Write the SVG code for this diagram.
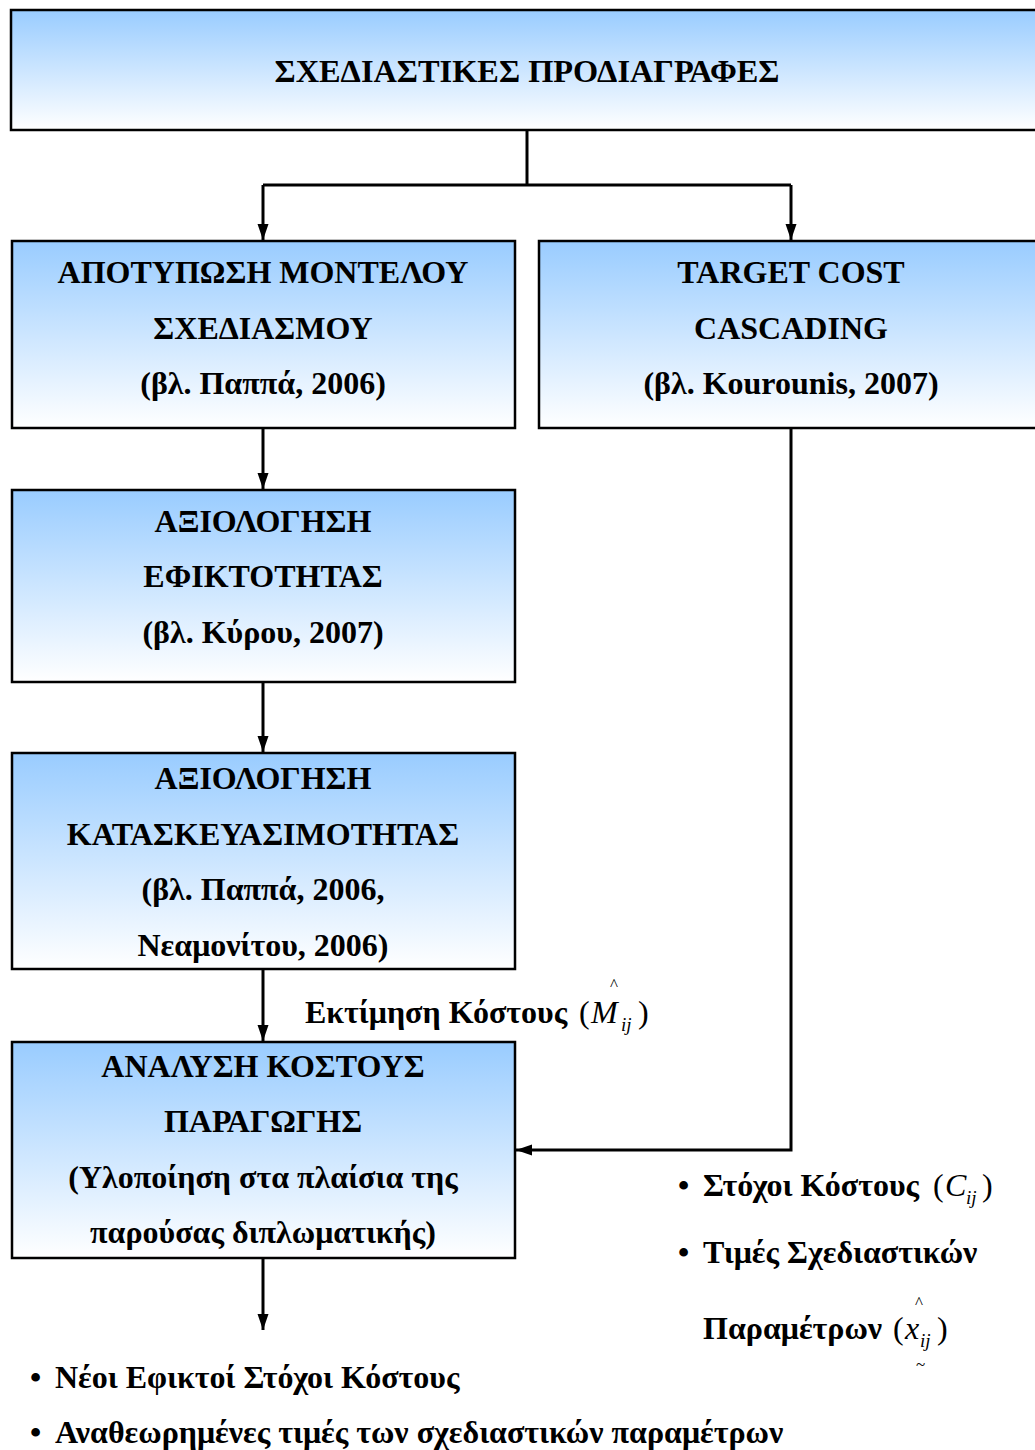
<svg xmlns="http://www.w3.org/2000/svg" width="1035" height="1450" viewBox="0 0 1035 1450">
<defs>
<linearGradient id="g" x1="0" y1="0" x2="0" y2="1">
<stop offset="0" stop-color="#99CCFF"/>
<stop offset="1" stop-color="#FFFFFF"/>
</linearGradient>
<marker id="ah" markerWidth="16" markerHeight="16" viewBox="0 0 16 16" refX="16" refY="8" orient="auto" markerUnits="userSpaceOnUse">
<path d="M0,2.5 L16,8 L0,13.5 Z" fill="#000"/>
</marker>
</defs>
<style>
.box{fill:url(#g);stroke:#000;stroke-width:2.5}
.t{font-family:"Liberation Serif","Times New Roman",serif;font-weight:bold;font-size:32px;fill:#000;text-anchor:middle}
.l{font-family:"Liberation Serif","Times New Roman",serif;font-weight:bold;font-size:32px;fill:#000}
.m{font-family:"Liberation Serif","Times New Roman",serif;font-weight:normal;font-size:32px;fill:#000}
.i{font-family:"Liberation Serif","Times New Roman",serif;font-style:italic;font-size:32px;fill:#000}
.s{font-family:"Liberation Serif","Times New Roman",serif;font-style:italic;font-size:19px;fill:#000}
.h{font-family:"Liberation Serif","Times New Roman",serif;font-size:17px;fill:#000}
.c{fill:none;stroke:#000;stroke-width:3}
</style>
<rect width="1035" height="1450" fill="#fff"/>
<g id="n1">
<rect class="box" x="11" y="10" width="1030" height="120"/>
<text class="t" x="527" y="82" textLength="505" lengthAdjust="spacingAndGlyphs">ΣΧΕΔΙΑΣΤΙΚΕΣ ΠΡΟΔΙΑΓΡΑΦΕΣ</text>
</g>
<g id="n2">
<rect class="box" x="12" y="241" width="503" height="187"/>
<text class="t" x="263" y="283">ΑΠΟΤΥΠΩΣΗ ΜΟΝΤΕΛΟΥ</text>
<text class="t" x="263" y="339">ΣΧΕΔΙΑΣΜΟΥ</text>
<text class="t" x="263" y="394">(βλ. Παππά, 2006)</text>
</g>
<g id="n3">
<rect class="box" x="539" y="241" width="502" height="187"/>
<text class="t" x="791" y="283">TARGET COST</text>
<text class="t" x="791" y="339">CASCADING</text>
<text class="t" x="791" y="394">(βλ. Kourounis, 2007)</text>
</g>
<g id="n4">
<rect class="box" x="12" y="490" width="503" height="192"/>
<text class="t" x="263" y="532">ΑΞΙΟΛΟΓΗΣΗ</text>
<text class="t" x="263" y="587">ΕΦΙΚΤΟΤΗΤΑΣ</text>
<text class="t" x="263" y="643">(βλ. Κύρου, 2007)</text>
</g>
<g id="n5">
<rect class="box" x="12" y="753" width="503" height="216"/>
<text class="t" x="263" y="789">ΑΞΙΟΛΟΓΗΣΗ</text>
<text class="t" x="263" y="845">ΚΑΤΑΣΚΕΥΑΣΙΜΟΤΗΤΑΣ</text>
<text class="t" x="263" y="900">(βλ. Παππά, 2006,</text>
<text class="t" x="263" y="956">Νεαμονίτου, 2006)</text>
</g>
<g id="n6">
<rect class="box" x="12" y="1042" width="503" height="216"/>
<text class="t" x="263" y="1077">ΑΝΑΛΥΣΗ ΚΟΣΤΟΥΣ</text>
<text class="t" x="263" y="1132">ΠΑΡΑΓΩΓΗΣ</text>
<text class="t" x="263" y="1188">(Υλοποίηση στα πλαίσια της</text>
<text class="t" x="263" y="1243">παρούσας διπλωματικής)</text>
</g>
<g id="connectors">
<path class="c" d="M527,130 V185"/>
<path class="c" d="M263,185 H791"/>
<path class="c" d="M263,185 V240" marker-end="url(#ah)"/>
<path class="c" d="M791,185 V240" marker-end="url(#ah)"/>
<path class="c" d="M263,428 V489" marker-end="url(#ah)"/>
<path class="c" d="M263,682 V752" marker-end="url(#ah)"/>
<path class="c" d="M263,969 V1041" marker-end="url(#ah)"/>
<path class="c" d="M791,428 V1150 H516" marker-end="url(#ah)"/>
<path class="c" d="M263,1258 V1330" marker-end="url(#ah)"/>
</g>
<g id="labels">
<text class="l" x="305" y="1023">Εκτίμηση Κόστους</text>
<text class="m" x="579" y="1023">(</text>
<text class="i" x="591" y="1023">M</text>
<text class="s" x="621" y="1031">ij</text>
<text class="m" x="638" y="1023">)</text>
<text class="h" x="610" y="990">^</text>

<text class="l" x="678" y="1196">•</text>
<text class="l" x="703" y="1196">Στόχοι Κόστους</text>
<text class="m" x="933" y="1196">(</text>
<text class="i" x="945" y="1196">C</text>
<text class="s" x="966" y="1204">ij</text>
<text class="m" x="982" y="1196">)</text>

<text class="l" x="678" y="1263">•</text>
<text class="l" x="703" y="1263">Τιμές Σχεδιαστικών</text>
<text class="l" x="703" y="1339">Παραμέτρων</text>
<text class="m" x="893" y="1339">(</text>
<text class="i" x="905" y="1339">x</text>
<text class="s" x="920" y="1347">ij</text>
<text class="m" x="937" y="1339">)</text>
<text class="h" x="915" y="1308">^</text>
<text class="h" x="916" y="1370">~</text>

<text class="l" x="30" y="1388">•</text>
<text class="l" x="55" y="1388">Νέοι Εφικτοί Στόχοι Κόστους</text>
<text class="l" x="30" y="1443">•</text>
<text class="l" x="55" y="1443">Αναθεωρημένες τιμές των σχεδιαστικών παραμέτρων</text>
</g>
</svg>
